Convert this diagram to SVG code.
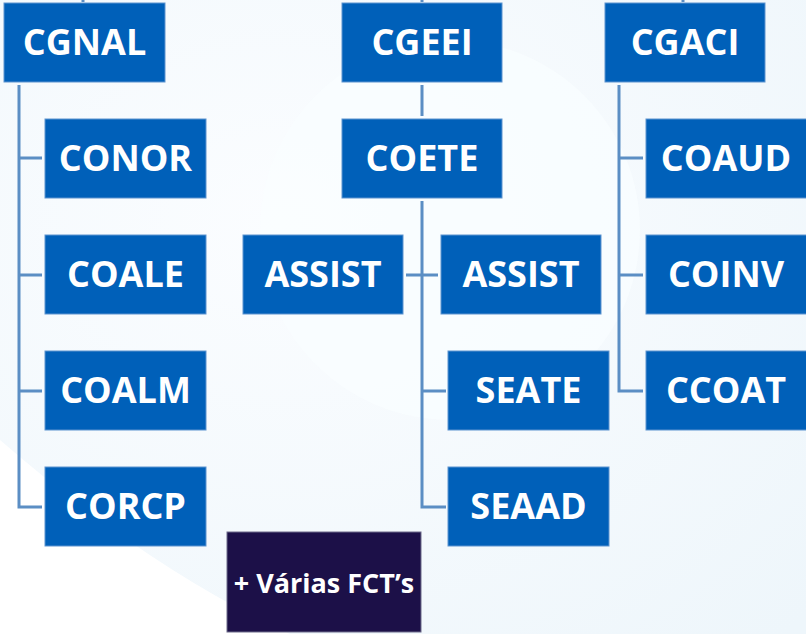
<svg xmlns="http://www.w3.org/2000/svg" width="806" height="634" viewBox="0 0 806 634">
<style>
.n{fill:#0060b9;stroke:#5d93cf;stroke-width:1}
.t{fill:#fff;font-family:"Open Sans","Liberation Sans",sans-serif;font-weight:bold;font-size:36px;text-anchor:middle}
.c{fill:none;stroke:#5b8ec4;stroke-width:3}
</style>
<defs>
<radialGradient id="bg" cx="0.35" cy="0.35" r="0.9">
<stop offset="0" stop-color="#fbfdff"/>
<stop offset="1" stop-color="#eef6fb"/>
</radialGradient>
</defs>
<rect width="806" height="634" fill="url(#bg)"/>
<path d="M0,440 Q150,570 290,634 L0,634 Z" fill="#ffffff"/>
<circle cx="450" cy="230" r="190" fill="#fafdff" opacity="0.7"/>
<g id="connectors">
<path class="c" d="M83,0 V2 M422,0 V2 M683,0 V2"/>
<path class="c" d="M19,85 V507 H42 M19,158 H42 M19,275 H42 M19,391 H42"/>
<path class="c" d="M422,85 V116 M422,201 V507 H446 M406,275 H438 M422,391 H446"/>
<path class="c" d="M619,85 V391 H643 M619,158 H643 M619,275 H643"/>
</g>
<g id="CGNAL"><rect class="n" x="4" y="3" width="161" height="79"/><text class="t" x="84.5" y="55">CGNAL</text></g>
<g id="CONOR"><rect class="n" x="45" y="119" width="161" height="79"/><text class="t" x="125.5" y="171">CONOR</text></g>
<g id="COALE"><rect class="n" x="45" y="235" width="161" height="79"/><text class="t" x="125.5" y="287">COALE</text></g>
<g id="COALM"><rect class="n" x="45" y="351" width="161" height="79"/><text class="t" x="125.5" y="403">COALM</text></g>
<g id="CORCP"><rect class="n" x="45" y="467" width="161" height="79"/><text class="t" x="125.5" y="519">CORCP</text></g>
<g id="CGEEI"><rect class="n" x="342" y="3" width="160" height="79"/><text class="t" x="422" y="55">CGEEI</text></g>
<g id="COETE"><rect class="n" x="342" y="119" width="160" height="79"/><text class="t" x="422" y="171">COETE</text></g>
<g id="ASSIST1"><rect class="n" x="243" y="235" width="160" height="79"/><text class="t" x="323" y="287">ASSIST</text></g>
<g id="ASSIST2"><rect class="n" x="441" y="235" width="160" height="79"/><text class="t" x="521" y="287">ASSIST</text></g>
<g id="SEATE"><rect class="n" x="448" y="351" width="161" height="79"/><text class="t" x="528.5" y="403">SEATE</text></g>
<g id="SEAAD"><rect class="n" x="448" y="467" width="161" height="79"/><text class="t" x="528.5" y="519">SEAAD</text></g>
<g id="CGACI"><rect class="n" x="605" y="3" width="160" height="79"/><text class="t" x="685" y="55">CGACI</text></g>
<g id="COAUD"><rect class="n" x="646" y="119" width="162" height="79"/><text class="t" x="726" y="171">COAUD</text></g>
<g id="COINV"><rect class="n" x="646" y="235" width="162" height="79"/><text class="t" x="726" y="287">COINV</text></g>
<g id="CCOAT"><rect class="n" x="646" y="351" width="162" height="79"/><text class="t" x="726" y="403">CCOAT</text></g>
<g id="FCT"><rect x="227" y="532" width="194" height="100" fill="#1c1048" stroke="#6d6a8a" stroke-width="1"/><text class="t" x="324" y="593" style="font-size:27px">+ Várias FCT’s</text></g>
</svg>
